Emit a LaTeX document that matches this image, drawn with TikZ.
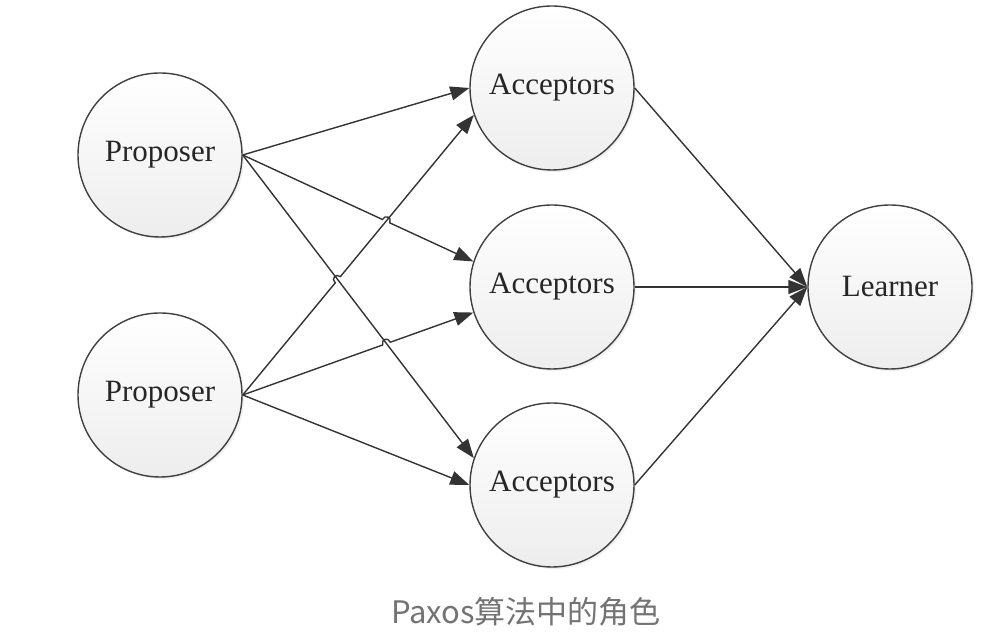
\documentclass[tikz,border=0pt]{standalone}
\usepackage{fontspec}
\setmainfont{Liberation Serif}
\newfontfamily\cjk{Noto Sans CJK SC}
\usetikzlibrary{shadows,arrows.meta,calc,intersections}
\tikzstyle{rolenode}=[circle, draw=black!75, line width=1.4pt,
  minimum size=164pt, inner sep=0pt, top color=white, bottom color=black!7,
  drop shadow={opacity=0.12, shadow xshift=2pt, shadow yshift=-2pt},
  text=black!85, font=\fontsize{31}{34}\selectfont]
\tikzstyle{line}=[draw, line width=1.4pt, color=black!80,
  -{Triangle[length=19pt,width=14pt]}]
\tikzstyle{captiontext}=[text=black!55, font=\cjk\fontsize{31}{34}\selectfont]
\newcommand{\role}[2]{node (#1) [rolenode] {#2}}
% straight arrow from #1 to #3 that jumps over the crossing #2
\newcommand{\hopline}[3]{%
  \path [line] (#1) -- ($(#2)!4pt!(#1)$)
    .. controls ($(#2)!4pt!(#1)!6pt!90:(#2)$) and ($(#2)!4pt!(#3)!6pt!-90:(#2)$)
    .. ($(#2)!4pt!(#3)$) -- (#3);}

\begin{document}
\begin{tikzpicture}[x=1pt,y=1pt]
  \useasboundingbox (0,0) rectangle (998,644);

  % proposers
  \path (160,489) \role{PROPOSERA}{Proposer};
  \path (PROPOSERA.center)+(0,-240) \role{PROPOSERB}{Proposer};

  % acceptors and learner
  \path (PROPOSERA.center)+(392,67) \role{ACCEPTORA}{Acceptors};
  \path (ACCEPTORA.center)+(0,-199) \role{ACCEPTORB}{Acceptors};
  \path (ACCEPTORB.center)+(0,-198) \role{ACCEPTORC}{Acceptors};
  \path (ACCEPTORB.center)+(338,0) \role{LEARNER}{Learner};

  \path (526,32) node (CAPTION) [captiontext] {Paxos算法中的角色};

  % crossings of the arrows
  \path [name path=pab] (PROPOSERA.east) -- (ACCEPTORB.162);
  \path [name path=pac] (PROPOSERA.east) -- (ACCEPTORC.161);
  \path [name path=pba] (PROPOSERB.east) -- (ACCEPTORA.199);
  \path [name path=pbb] (PROPOSERB.east) -- (ACCEPTORB.198);
  \path [name intersections={of=pab and pba, by=HOPA}];
  \path [name intersections={of=pba and pac, by=HOPB}];
  \path [name intersections={of=pbb and pac, by=HOPC}];

  % Draw arrows between elements
  \path [line] (PROPOSERA.east) -- (ACCEPTORA.west);
  \hopline{PROPOSERA.east}{HOPA}{ACCEPTORB.162}
  \path [line] (PROPOSERA.east) -- (ACCEPTORC.161);

  \hopline{PROPOSERB.east}{HOPB}{ACCEPTORA.199}
  \hopline{PROPOSERB.east}{HOPC}{ACCEPTORB.198}
  \path [line] (PROPOSERB.east) -- (ACCEPTORC.west);

  \path [line] (ACCEPTORA.east) -- (LEARNER.west);
  \path [line] (ACCEPTORB.east) -- (LEARNER.west);
  \path [line] (ACCEPTORC.east) -- (LEARNER.west);

\end{tikzpicture}
\end{document}
